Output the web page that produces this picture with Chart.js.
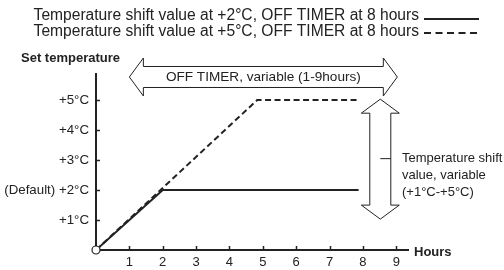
<!DOCTYPE html>
<html>
<head>
<meta charset="utf-8">
<script src="https://cdn.jsdelivr.net/npm/chart.js@4/dist/chart.umd.min.js"></script>
<style>
  html, body { margin: 0; padding: 0; background: #fff; }
  #wrap { width: 504px; height: 270px; }
</style>
</head>
<body>
<div id="wrap"><canvas id="myChart" width="504" height="270"></canvas></div>
<script>
// values
const seriesLabels = [
  'Temperature shift value at +2°C, OFF TIMER at 8 hours',
  'Temperature shift value at +5°C, OFF TIMER at 8 hours'
];
const solidHours = [0, 2, 7.87];
const solidTemp = [0, 2, 2];
const dashedHours = [0, 4.83, 7.87];
const dashedTemp = [0, 5, 5];
const xTicks = [1, 2, 3, 4, 5, 6, 7, 8, 9];
const xTickLabels = ['1', '2', '3', '4', '5', '6', '7', '8', '9'];
const yTicks = [1, 2, 3, 4, 5];
const yTickLabels = ['+1°C', '(Default) +2°C', '+3°C', '+4°C', '+5°C'];

const FONT = '"Liberation Sans", Arial, Helvetica, sans-serif';
const INK = '#222';

function pts(xs, ys) {
  return xs.map(function (x, i) { return { x: x, y: ys[i] }; });
}

// arrows, legend, titles, inner ticks
const extras = {
  id: 'extras',
  afterDraw: function (chart) {
    const c = chart.ctx;
    const xs = chart.scales.x, ys = chart.scales.y;
    c.save();
    c.strokeStyle = INK;
    c.fillStyle = INK;

    // small ticks inside the axes
    c.lineWidth = 1.5;
    c.beginPath();
    xTicks.forEach(function (v) {
      const px = Math.round(xs.getPixelForValue(v)) + 0.5;
      c.moveTo(px, ys.bottom); c.lineTo(px, ys.bottom - 4);
    });
    yTicks.forEach(function (v) {
      const py = Math.round(ys.getPixelForValue(v)) + 0.5;
      c.moveTo(xs.left, py); c.lineTo(xs.left + 4, py);
    });
    c.stroke();

    // titles
    c.font = 'bold 13px ' + FONT;
    c.textBaseline = 'middle';
    c.textAlign = 'left';
    c.fillText('Set temperature', 21, 58);
    c.fillText('Hours', 414, ys.bottom + 2);

    // legend
    c.font = '15.6px ' + FONT;
    c.textAlign = 'right';
    c.fillText(seriesLabels[0], 419, 16);
    c.fillText(seriesLabels[1], 419, 32);
    c.lineWidth = 2;
    c.beginPath(); c.moveTo(424, 19); c.lineTo(479, 19); c.stroke();
    c.setLineDash([7, 4.5]);
    c.beginPath(); c.moveTo(424, 33); c.lineTo(479, 33); c.stroke();
    c.setLineDash([]);

    // horizontal double arrow (OFF TIMER)
    const ay = ys.getPixelForValue(5.77);
    const ax1 = xs.getPixelForValue(1.0), ax2 = xs.getPixelForValue(9.03);
    const hl = 14, sh = 10.5, hh = 19;
    c.lineWidth = 1;
    c.fillStyle = '#fff';
    c.beginPath();
    c.moveTo(ax1, ay);
    c.lineTo(ax1 + hl, ay - hh); c.lineTo(ax1 + hl, ay - sh);
    c.lineTo(ax2 - hl, ay - sh); c.lineTo(ax2 - hl, ay - hh);
    c.lineTo(ax2, ay);
    c.lineTo(ax2 - hl, ay + hh); c.lineTo(ax2 - hl, ay + sh);
    c.lineTo(ax1 + hl, ay + sh); c.lineTo(ax1 + hl, ay + hh);
    c.closePath();
    c.fill(); c.stroke();
    c.fillStyle = INK;
    c.font = '13.6px ' + FONT;
    c.textAlign = 'center';
    c.fillText('OFF TIMER, variable (1-9hours)', (ax1 + ax2) / 2, ay);

    // vertical double arrow (temperature shift)
    const vx = xs.getPixelForValue(8.52);
    const vy1 = ys.getPixelForValue(5.03), vy2 = ys.getPixelForValue(1.03);
    c.fillStyle = '#fff';
    c.beginPath();
    c.moveTo(vx, vy1);
    c.lineTo(vx + hh, vy1 + hl); c.lineTo(vx + sh, vy1 + hl);
    c.lineTo(vx + sh, vy2 - hl); c.lineTo(vx + hh, vy2 - hl);
    c.lineTo(vx, vy2);
    c.lineTo(vx - hh, vy2 - hl); c.lineTo(vx - sh, vy2 - hl);
    c.lineTo(vx - sh, vy1 + hl); c.lineTo(vx - hh, vy1 + hl);
    c.closePath();
    c.fill(); c.stroke();

    const my = (vy1 + vy2) / 2 - 1;
    c.beginPath(); c.moveTo(vx, my + 0.5); c.lineTo(vx + sh, my + 0.5); c.stroke();
    c.fillStyle = INK;
    c.font = '13px ' + FONT;
    c.textAlign = 'left';
    c.fillText('Temperature shift', 402, my);
    c.fillText('value, variable', 402, my + 17);
    c.fillText('(+1°C-+5°C)', 402, my + 34);

    // open circle at origin
    c.lineWidth = 1.2;
    c.fillStyle = '#fff';
    c.beginPath();
    c.arc(xs.getPixelForValue(0), ys.getPixelForValue(0), 4, 0, Math.PI * 2);
    c.fill(); c.stroke();
    c.restore();
  }
};

const ctx = document.getElementById('myChart').getContext('2d');
const myChart = new Chart(ctx, {
  type: 'scatter',
  data: {
    datasets: [{
      label: seriesLabels[0],
      data: pts(solidHours, solidTemp),
      showLine: true,
      borderColor: INK,
      borderWidth: 2,
      pointRadius: 0,
      tension: 0
    }, {
      label: seriesLabels[1],
      data: pts(dashedHours, dashedTemp),
      showLine: true,
      borderColor: INK,
      borderWidth: 2,
      borderDash: [6, 3.5],
      pointRadius: 0,
      tension: 0
    }]
  },
  options: {
    responsive: false,
    animation: false,
    layout: { padding: { left: 0, top: 74, right: 96, bottom: 0 } },
    plugins: { legend: { display: false }, tooltip: { enabled: false } },
    scales: {
      x: {
        type: 'linear',
        min: 0,
        max: 9.35,
        afterBuildTicks: function (s) { s.ticks = xTicks.map(function (v) { return { value: v }; }); },
        afterFit: function (s) { s.height = 20; },
        grid: { display: false, drawTicks: false },
        border: { display: true, color: INK, width: 2 },
        ticks: {
          padding: 5,
          color: INK,
          font: { family: FONT, size: 13 },
          maxRotation: 0,
          callback: function (v) { const i = xTicks.indexOf(v); return i < 0 ? '' : xTickLabels[i]; }
        }
      },
      y: {
        type: 'linear',
        min: 0,
        max: 5.87,
        afterBuildTicks: function (s) { s.ticks = yTicks.map(function (v) { return { value: v }; }); },
        afterFit: function (s) { s.width = 96; },
        grid: { display: false, drawTicks: false },
        border: { display: true, color: INK, width: 2 },
        ticks: {
          padding: 7,
          color: INK,
          font: { family: FONT, size: 13.3 },
          callback: function (v) { const i = yTicks.indexOf(v); return i < 0 ? '' : yTickLabels[i]; }
        }
      }
    }
  },
  plugins: [extras]
});
</script>
</body>
</html>
